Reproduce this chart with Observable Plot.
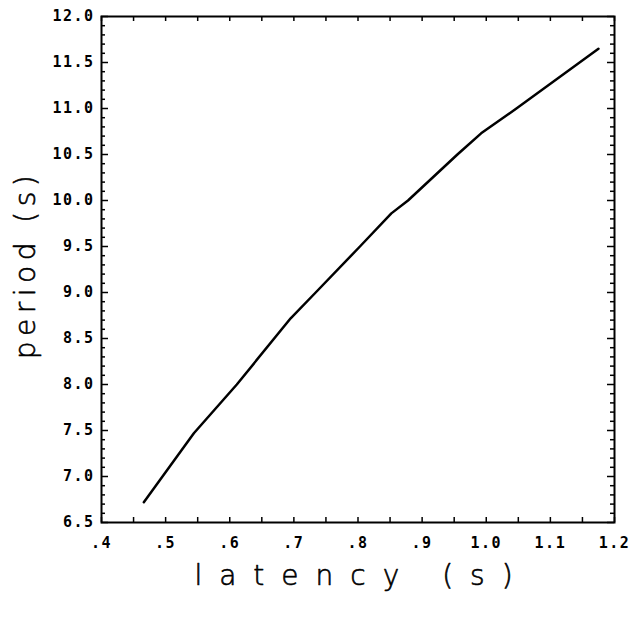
<!DOCTYPE html>
<html><head><meta charset="utf-8">
<script src="https://cdn.jsdelivr.net/npm/d3@7"></script>
<script src="https://cdn.jsdelivr.net/npm/@observablehq/plot@0.6"></script>
<style>html,body{margin:0;padding:0;background:#fff}</style>
</head><body><div id="chart"></div>
<script>
// Data
const latency = [0.466, 0.544, 0.611, 0.695, 0.734, 0.803, 0.852, 0.878, 0.955, 0.992, 1.047, 1.175];
const period  = [6.72, 7.47, 8.00, 8.72, 9.00, 9.50, 9.86, 10.00, 10.50, 10.73, 11.00, 11.65];

const xTickValues = [0.4, 0.5, 0.6, 0.7, 0.8, 0.9, 1.0, 1.1, 1.2];
const xTickLabels = [".4", ".5", ".6", ".7", ".8", ".9", "1.0", "1.1", "1.2"];
const yTickValues = [6.5, 7.0, 7.5, 8.0, 8.5, 9.0, 9.5, 10.0, 10.5, 11.0, 11.5, 12.0];
const yTickLabels = ["6.5", "7.0", "7.5", "8.0", "8.5", "9.0", "9.5", "10.0", "10.5", "11.0", "11.5", "12.0"];
const xLabel = "latency (s)";
const yLabel = "period (s)";

const data = latency.map((x, i) => ({latency: x, period: period[i]}));

const W = 633, H = 617, mL = 101, mR = 19, mT = 16, mB = 95;
const plotW = W - mL - mR, plotH = H - mT - mB;

// minor tick positions (axis decoration)
const xMinor = d3.range(0, 17).map(i => +(0.4 + i * 0.05).toFixed(2));
const yMinor = d3.range(0, 56).map(i => +(6.5 + i * 0.1).toFixed(1));
const yMinorOnly = yMinor.filter(v => !yTickValues.some(t => Math.abs(t - v) < 1e-6));

const xTickLen = 5, yMinorLen = 4, yMajorLen = 7;

const chart = Plot.plot({
  width: W, height: H,
  marginLeft: mL, marginRight: mR, marginTop: mT, marginBottom: mB,
  x: {domain: [0.4, 1.2]},
  y: {domain: [6.5, 12.0]},
  style: {fontFamily: "'DejaVu Sans Mono', monospace", fontSize: "15px", fontWeight: "bold", background: "white", color: "black"},
  marks: [
    // inward ticks on all four sides
    Plot.tickX(xMinor, {x: d => d, stroke: "black", strokeWidth: 1.5, insetTop: plotH - xTickLen}),
    Plot.tickX(xMinor, {x: d => d, stroke: "black", strokeWidth: 1.5, insetBottom: plotH - xTickLen}),
    Plot.tickY(yMinorOnly, {y: d => d, stroke: "black", strokeWidth: 1.5, insetRight: plotW - yMinorLen}),
    Plot.tickY(yMinorOnly, {y: d => d, stroke: "black", strokeWidth: 1.5, insetLeft: plotW - yMinorLen}),
    Plot.tickY(yTickValues, {y: d => d, stroke: "black", strokeWidth: 1.5, insetRight: plotW - yMajorLen}),
    Plot.tickY(yTickValues, {y: d => d, stroke: "black", strokeWidth: 1.5, insetLeft: plotW - yMajorLen}),
    Plot.frame({stroke: "black", strokeWidth: 2}),
    Plot.axisX(xTickValues, {anchor: "bottom", tickSize: 0, tickPadding: 15, label: null,
      tickFormat: d => xTickLabels[xTickValues.indexOf(d)]}),
    Plot.axisY(yTickValues, {anchor: "left", tickSize: 0, tickPadding: 7, label: null,
      tickFormat: d => yTickLabels[yTickValues.indexOf(d)]}),
    Plot.line(data, {x: "latency", y: "period", stroke: "black", strokeWidth: 2.5}),
    Plot.text([xLabel], {frameAnchor: "bottom", dy: 54, text: d => d, fontSize: 28,
      textAnchor: "middle", lineAnchor: "middle",
      fontFamily: "'DejaVu Sans', sans-serif", fontWeight: 300, fill: "black", stroke: "black", strokeWidth: 0.6}),
    Plot.text([yLabel], {frameAnchor: "left", dx: -75, rotate: -90, text: d => d, fontSize: 28,
      textAnchor: "middle", lineAnchor: "middle",
      fontFamily: "'DejaVu Sans', sans-serif", fontWeight: 300, fill: "black", stroke: "black", strokeWidth: 0.6})
  ]
});

const svg = d3.select(chart);
svg.selectAll("text").style("letter-spacing", "1.5px");
svg.selectAll("text").filter(function() { return this.textContent === xLabel; })
  .style("letter-spacing", "17px").attr("x", 4);
svg.selectAll("text").filter(function() { return this.textContent === yLabel; })
  .style("letter-spacing", "5.5px").attr("x", 5);

document.getElementById("chart").appendChild(chart);
</script>
</body></html>
